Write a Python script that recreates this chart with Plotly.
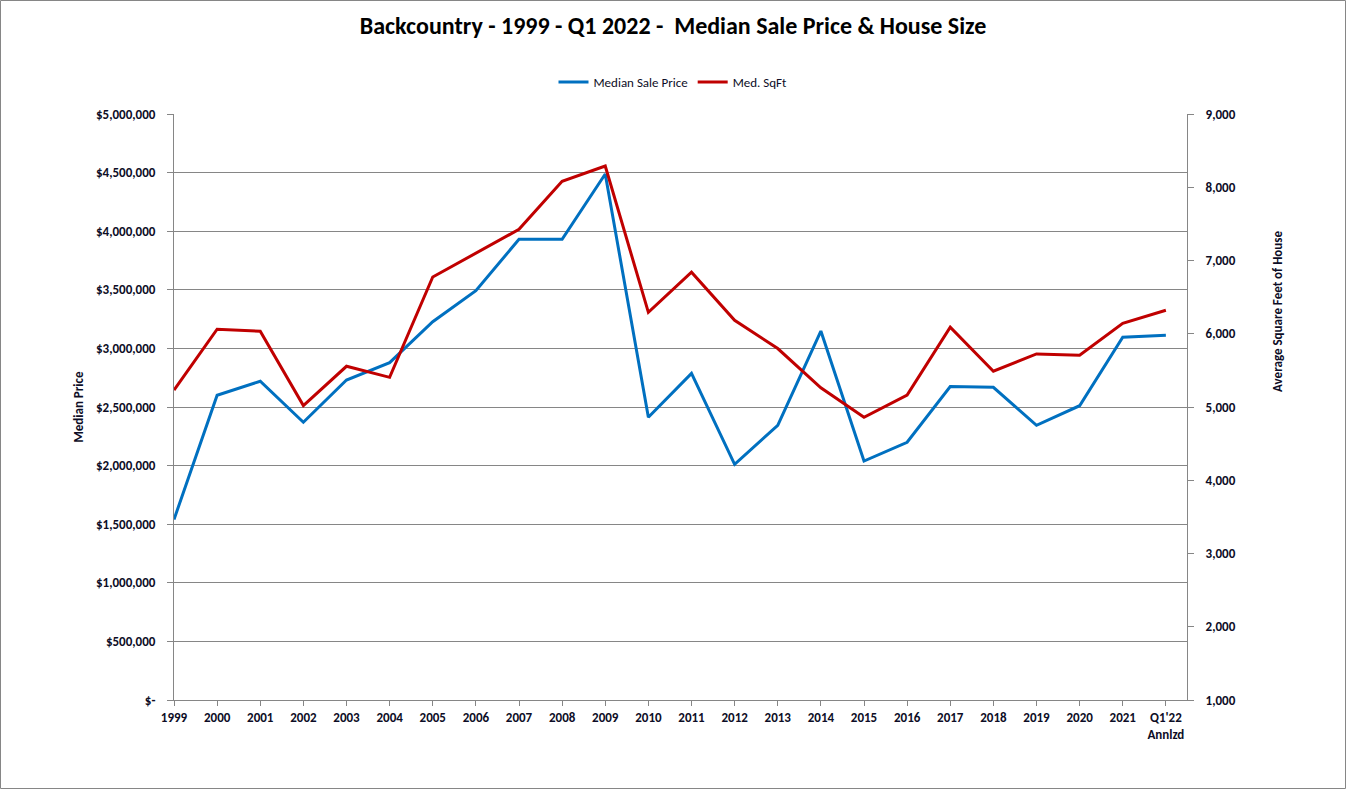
import plotly.graph_objects as go

categories = ["1999", "2000", "2001", "2002", "2003", "2004", "2005", "2006", "2007", "2008",
              "2009", "2010", "2011", "2012", "2013", "2014", "2015", "2016", "2017", "2018",
              "2019", "2020", "2021", "Q1'22<br>Annlzd"]

median_sale_price = [1540000, 2600000, 2720000, 2370000, 2730000, 2878000, 3228000, 3492000,
                     3931000, 3931000, 4488000, 2412000, 2787000, 2011000, 2344000, 3148000,
                     2039000, 2199000, 2675000, 2668000, 2344000, 2511000, 3095000, 3112000]

median_sqft = [5232, 6062, 6035, 5020, 5556, 5405, 6775, 7104, 7425, 8082,
               8290, 6292, 6840, 6184, 5798, 5262, 4860, 5162, 6090, 5488,
               5724, 5707, 6143, 6321]

price_tickvals = [0, 500000, 1000000, 1500000, 2000000, 2500000, 3000000, 3500000, 4000000, 4500000, 5000000]
price_ticktext = ["$-", "$500,000", "$1,000,000", "$1,500,000", "$2,000,000", "$2,500,000",
                  "$3,000,000", "$3,500,000", "$4,000,000", "$4,500,000", "$5,000,000"]
sqft_tickvals = [1000, 2000, 3000, 4000, 5000, 6000, 7000, 8000, 9000]

FONT = "Carlito, Calibri, 'Liberation Sans Narrow', 'DejaVu Sans Condensed', sans-serif"
TXT = "#0d0d26"
GRID = "#868686"

W, H = 1346, 789
ML, MR, MT, MB = 174, 159, 114, 89
PW, PH = W - ML - MR, H - MT - MB

tickfont = dict(family=FONT, size=13, color=TXT, weight="bold")
titlefont = dict(family=FONT, size=13, color=TXT, weight="bold")

fig = go.Figure()
fig.add_trace(go.Scatter(x=categories, y=median_sale_price, name="Median Sale Price",
                         mode="lines", line=dict(color="#0070C0", width=3), yaxis="y"))
fig.add_trace(go.Scatter(x=categories, y=median_sqft, name="Med. SqFt",
                         mode="lines", line=dict(color="#C00000", width=3), yaxis="y2"))

fig.update_layout(
    width=W, height=H,
    margin=dict(l=ML, r=MR, t=MT, b=MB, autoexpand=False),
    paper_bgcolor="white", plot_bgcolor="white",
    font=dict(family=FONT, color=TXT, size=12),
    title=dict(text="Backcountry - 1999 - Q1 2022 -\u00a0\u00a0Median Sale Price & House Size",
               x=0.5, xref="container", xanchor="center", y=1 - 26 / H, yanchor="middle",
               font=dict(family=FONT, size=24, color="black", weight="bold")),
    showlegend=True,
    legend=dict(orientation="h", x=0.5, xanchor="center", xref="container",
                y=1 - 82 / H, yref="container", yanchor="middle",
                font=dict(family=FONT, size=13, color=TXT), itemwidth=30,
                tracegroupgap=0),
    xaxis=dict(type="category", range=[0, 23.49], showgrid=False, showline=True,
               linecolor=GRID, linewidth=1, ticks="outside", ticklen=5, tickcolor=GRID,
               tickfont=tickfont, tickangle=0),
    yaxis=dict(range=[0, 5000000], tickvals=price_tickvals, ticktext=price_ticktext,
               showgrid=True, gridcolor=GRID, gridwidth=1, showline=True, linecolor=GRID,
               ticks="outside", ticklen=6, tickcolor=GRID, zeroline=False,
               tickfont=tickfont, ticklabelstandoff=9,
               title=dict(text="Median Price", font=titlefont, standoff=9)),
    yaxis2=dict(range=[1000, 9000], tickvals=sqft_tickvals, tickformat=",",
                overlaying="y", side="right", showgrid=False, showline=True, linecolor=GRID,
                ticks="outside", ticklen=6, tickcolor=GRID, zeroline=False,
                tickfont=tickfont, ticklabelstandoff=9),
)

# right axis title (placed above centre, as in the reference)
fig.add_annotation(text="Average Square Feet of House", textangle=-90, showarrow=False,
                   xref="paper", yref="paper", x=(1277 - ML) / PW, y=(H - MB - 312) / PH,
                   xanchor="center", yanchor="middle", font=titlefont)

# outer chart border
fig.add_shape(type="rect", xref="paper", yref="paper",
              x0=(0.5 - ML) / PW, x1=(W - 0.5 - ML) / PW,
              y0=(0.5 - MB) / PH, y1=1 + (MT - 0.5) / PH,
              line=dict(color=GRID, width=1), fillcolor="rgba(0,0,0,0)", layer="below")

fig.write_html("out.html", config={"displayModeBar": False},
               post_script="document.body.style.margin='0';document.body.style.overflow='hidden';")
